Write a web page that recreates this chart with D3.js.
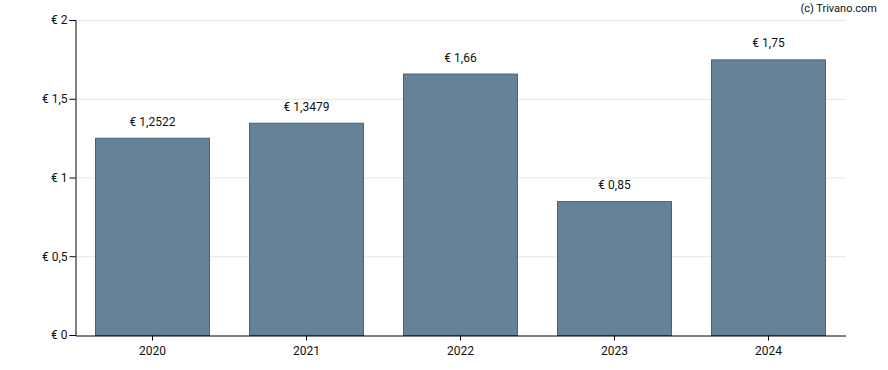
<!DOCTYPE html>
<html>
<head>
<meta charset="utf-8">
<script src="https://cdn.jsdelivr.net/npm/d3@7"></script>
<style>
  body { margin: 0; background: #fff; }
  text { font-family: Roboto, "Liberation Sans", sans-serif; font-size: 12px; fill: #111; }
</style>
</head>
<body>
<div id="chart"></div>
<script>
var years = ["2020", "2021", "2022", "2023", "2024"];
var values = [1.2522, 1.3479, 1.66, 0.85, 1.75];
var labels = ["€ 1,2522", "€ 1,3479", "€ 1,66", "€ 0,85", "€ 1,75"];
var yTicks = [0, 0.5, 1, 1.5, 2];
var yTickLabels = ["€ 0", "€ 0,5", "€ 1", "€ 1,5", "€ 2"];

var margin = {top: 20, right: 42, bottom: 35, left: 76},
    width = 888 - margin.left - margin.right,
    height = 370 - margin.top - margin.bottom;

var svg = d3.select("#chart").append("svg")
    .attr("width", 888)
    .attr("height", 370);

svg.append("text")
    .attr("x", 877)
    .attr("y", 12)
    .attr("text-anchor", "end")
    .style("font-size", "11px")
    .text("(c) Trivano.com");

var g = svg.append("g")
    .attr("transform", "translate(" + margin.left + "," + margin.top + ")");

var x = d3.scaleBand().domain(years).range([0, width]).paddingInner(0.26).paddingOuter(0.13);
var y = d3.scaleLinear().domain([0, 2]).range([height, 0]);

// grid
g.selectAll(".grid").data(yTicks.slice(1)).enter().append("line")
    .attr("x1", 0).attr("x2", width)
    .attr("y1", d => y(d) + 0.5).attr("y2", d => y(d) + 0.5)
    .attr("stroke", "#e6e6e6");

// bars
g.selectAll(".bar").data(values).enter().append("rect")
    .attr("x", (d, i) => x(years[i]) - 0.5)
    .attr("y", d => y(d) + 0.5)
    .attr("width", x.bandwidth())
    .attr("height", d => height - y(d))
    .attr("fill", "#4f6f87")
    .attr("fill-opacity", 0.87)
    .attr("stroke", "#476178");

g.selectAll(".lbl").data(values).enter().append("text")
    .attr("x", (d, i) => x(years[i]) + x.bandwidth() / 2 - 0.5)
    .attr("y", d => y(d) - 12)
    .attr("text-anchor", "middle")
    .text((d, i) => labels[i]);

var yAxis = d3.axisLeft(y).tickValues(yTicks).tickSize(6).tickPadding(2)
    .tickFormat((d, i) => yTickLabels[i]);
var gy = g.append("g").attr("transform", "translate(-0.5,0)").call(yAxis);
gy.selectAll("text").style("font-size", "12px").attr("fill", "#111");
gy.selectAll("path, line").attr("stroke", "#000");

var xAxis = d3.axisBottom(x).tickSize(5).tickSizeOuter(0).tickPadding(6);
var gx = g.append("g").attr("transform", "translate(-0.5," + (height + 0.5) + ")").call(xAxis);
gx.selectAll("text").style("font-size", "12px").attr("fill", "#111");
gx.selectAll("path, line").attr("stroke", "#000");
</script>
</body>
</html>
